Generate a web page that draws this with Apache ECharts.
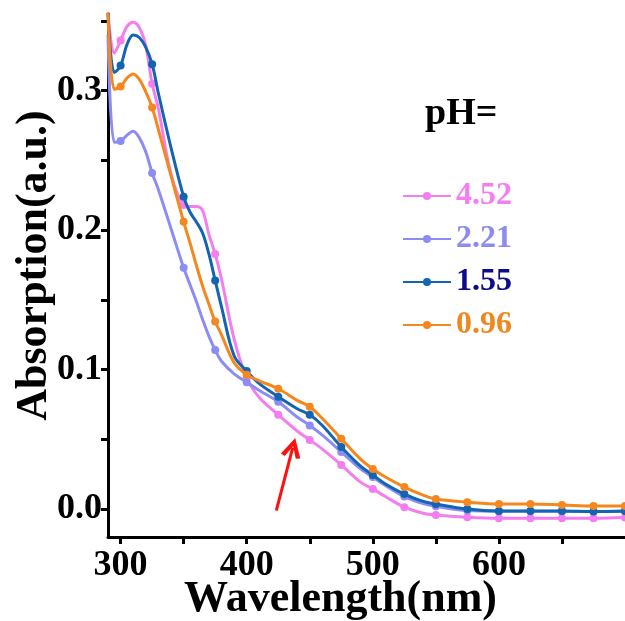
<!DOCTYPE html>
<html>
<head>
<meta charset="utf-8">
<script src="https://cdn.jsdelivr.net/npm/echarts@6/dist/echarts.min.js"></script>
<style>html,body{margin:0;padding:0;background:#fff;}#chart{width:625px;height:621px;}</style>
</head>
<body>
<div id="chart"></div>
<script>
// ---- data ----
const wavelengths = [290,295,300,305,310,315,320,325,330,340,350,355,360,365,370,375,380,390,400,410,425,440,450,460,475,490,500,510,525,540,550,575,600,625,650,675,700];
const ph452 = [0.356,0.327,0.336,0.346,0.349,0.345,0.332,0.305,0.287,0.240,0.218,0.217,0.217,0.214,0.197,0.183,0.165,0.122,0.094,0.080,0.0676,0.056,0.0496,0.043,0.0317,0.0195,0.0144,0.009,0.0014,-0.003,-0.0043,-0.0058,-0.0065,-0.0065,-0.0065,-0.0065,-0.006];
const ph221 = [0.340,0.263,0.264,0.268,0.271,0.266,0.256,0.241,0.229,0.201,0.173,0.161,0.149,0.136,0.124,0.114,0.106,0.097,0.091,0.085,0.077,0.066,0.060,0.053,0.041,0.029,0.023,0.017,0.009,0.004,0.002,-0.001,-0.0015,-0.0015,-0.0015,-0.0018,-0.0015];
const ph155 = [0.356,0.313,0.318,0.333,0.340,0.338,0.331,0.319,0.298,0.259,0.224,0.213,0.206,0.198,0.183,0.164,0.145,0.110,0.099,0.090,0.0806,0.072,0.0676,0.060,0.0446,0.031,0.0245,0.018,0.0108,0.0055,0.0036,0.0,-0.0014,-0.0014,-0.0014,-0.0018,-0.0014];
const ph096 = [0.356,0.301,0.303,0.309,0.312,0.308,0.299,0.288,0.272,0.239,0.206,0.191,0.175,0.160,0.147,0.1345,0.125,0.105,0.0964,0.092,0.0863,0.078,0.0734,0.065,0.0504,0.036,0.0288,0.023,0.0158,0.010,0.0072,0.005,0.0036,0.0036,0.003,0.0022,0.0022];
const seriesNames = ['4.52','2.21','1.55','0.96'];
const markerStep = 25; // markers drawn every 25 nm
const xTickLabels = [300,400,500,600];
const xTickMarks = [300,350,400,450,500,550,600,650];
const yTickLabels = [0.0,0.1,0.2,0.3];
const yTickMarks = [0.0,0.05,0.1,0.15,0.2,0.25,0.3,0.35];
const arrowFrom = [423.5,-0.001];
const arrowTo = [436.5,0.044];

// ---- styles ----
const lineColors = ['#f47ef0','#8c8cf5','#1464b4','#f5871f'];
const textColors = ['#f47ef0','#8c8cf0','#0c0c8a','#f0861e'];
const FONT = '"Liberation Serif","Times New Roman",serif';

const allValues = [ph452, ph221, ph155, ph096];
function build(vals){
  return wavelengths.map((w,i)=>({
    value:[w, vals[i]],
    symbol: (w % markerStep === 0) ? 'circle' : 'none'
  }));
}

const series = allValues.map((vals, k) => ({
  name: seriesNames[k],
  type: 'line',
  data: build(vals),
  smooth: 0.35,
  symbol: 'circle',
  symbolSize: 8,
  showSymbol: true,
  lineStyle: {color: lineColors[k], width: 3},
  itemStyle: {color: lineColors[k]},
  z: 2 + k
}));

series.push({
  name: 'arrow',
  type: 'line',
  data: [],
  markLine: {
    silent: true,
    symbol: ['none','path://M0,13 L7,0 L14,13 L11,14 L7,6 L3,14 Z'],
    symbolSize: [20, 20],
    label: {show: false},
    lineStyle: {color: '#ff1010', width: 3, type: 'solid'},
    data: [[{coord: arrowFrom}, {coord: arrowTo}]]
  }
});

const chart = echarts.init(document.getElementById('chart'), null, {renderer: 'canvas'});
chart.setOption({
  animation: false,
  backgroundColor: '#fff',
  title: {
    text: 'pH=',
    left: 420,
    top: 90,
    textStyle: {fontFamily: FONT, fontWeight: 'bold', fontSize: 38, color: '#000'}
  },
  legend: {
    orient: 'vertical',
    left: 397,
    top: 175,
    itemWidth: 48,
    itemHeight: 10,
    itemGap: 11,
    textStyle: {fontFamily: FONT, fontWeight: 'bold', fontSize: 32, lineHeight: 30},
    data: seriesNames.map((n,k)=>({name: n, textStyle: {color: textColors[k]}}))
  },
  grid: {left: 108, right: 0, top: 14, bottom: 84, outerBoundsMode: 'none', containLabel: false},
  xAxis: {
    type: 'value',
    min: 290, max: 700,
    name: 'Wavelength(nm)',
    nameLocation: 'middle',
    nameGap: 41,
    nameMoveOverlap: false,
    nameTextStyle: {fontFamily: FONT, fontWeight: 'bold', fontSize: 44, color: '#000', verticalAlign: 'top', padding: [0, 52, 0, 0]},
    axisLine: {onZero: false, lineStyle: {color: '#000', width: 3}},
    axisTick: {show: true, inside: false, length: 7, lineStyle: {width: 3, color: '#000'}, customValues: xTickMarks},
    axisLabel: {color: '#000', fontFamily: FONT, fontWeight: 'bold', fontSize: 36, margin: 11, customValues: xTickLabels},
    splitLine: {show: false}
  },
  yAxis: {
    type: 'value',
    min: -0.02, max: 0.355,
    name: 'Absorption(a.u.)',
    nameLocation: 'middle',
    nameGap: 51,
    nameMoveOverlap: false,
    nameRotate: 90,
    nameTextStyle: {fontFamily: FONT, fontWeight: 'bold', fontSize: 44, color: '#000', padding: [0, 0, 0, 20]},
    axisLine: {onZero: false, lineStyle: {color: '#000', width: 3}},
    axisTick: {show: true, inside: false, length: 7, lineStyle: {width: 3, color: '#000'}, customValues: yTickMarks},
    axisLabel: {color: '#000', fontFamily: FONT, fontWeight: 'bold', fontSize: 36, margin: 6, customValues: yTickLabels,
      formatter: v => Number(v).toFixed(1)},
    splitLine: {show: false}
  },
  series: series
});
</script>
</body>
</html>
